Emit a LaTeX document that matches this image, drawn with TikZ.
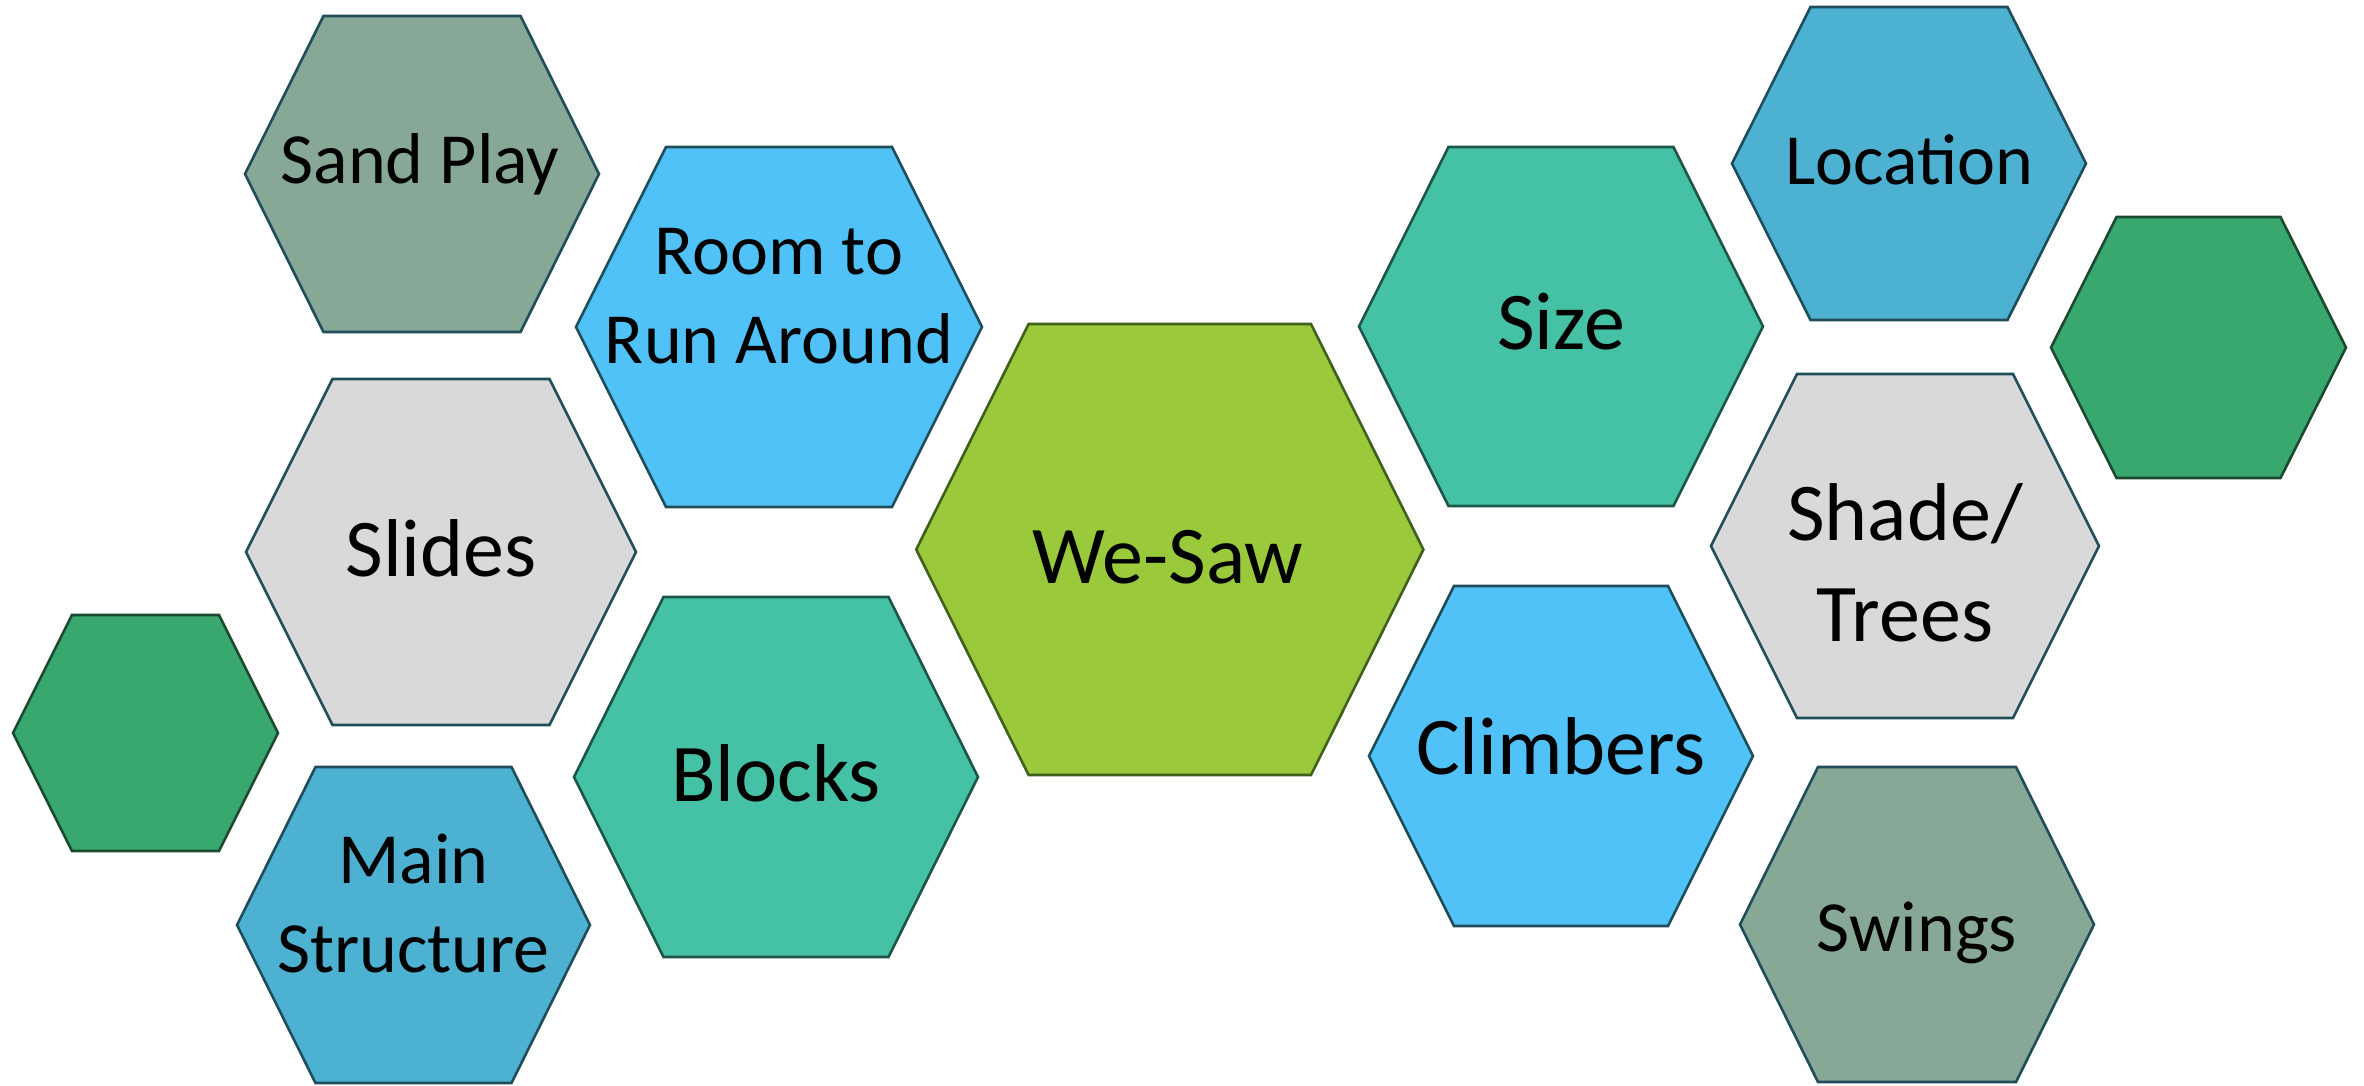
\documentclass[tikz,border=0pt]{standalone}
\usepackage{fontspec}
\setmainfont{Carlito}
\definecolor{sage}{HTML}{87A897}
\definecolor{sky}{HTML}{50C2F7}
\definecolor{pale}{HTML}{D9D9D9}
\definecolor{teal2}{HTML}{45C2A5}
\definecolor{blue2}{HTML}{4DB1D1}
\definecolor{dkgreen}{HTML}{38A86E}
\definecolor{lime}{HTML}{9ACA3C}
\definecolor{edgeblue}{HTML}{1F4D5A}
\definecolor{edgeteal}{HTML}{1D5548}
\definecolor{edgegreen}{HTML}{1B4A30}
\definecolor{edgelime}{HTML}{40601E}
\tikzset{
  hexbase/.style={line width=2.6pt, line join=miter},
  hsage/.style={hexbase, fill=sage, draw=edgeblue},
  hsky/.style={hexbase, fill=sky, draw=edgeblue},
  hpale/.style={hexbase, fill=pale, draw=edgeblue},
  hteal/.style={hexbase, fill=teal2, draw=edgeteal},
  hblue/.style={hexbase, fill=blue2, draw=edgeblue},
  hgreen/.style={hexbase, fill=dkgreen, draw=edgegreen},
  hlime/.style={hexbase, fill=lime, draw=edgelime},
  lbl/.style={anchor=base, inner sep=0pt, text=black},
  small/.style={lbl, font=\fontsize{72}{89}\selectfont},
  big/.style={lbl, font=\fontsize{82}{101}\selectfont},
}
% style, cx, cy, half width, half height, half top edge
\newcommand{\hexcell}[6]{%
  \path[#1] ({#2-#4},{#3}) -- ({#2-#6},{#3-#5}) -- ({#2+#6},{#3-#5}) --
    ({#2+#4},{#3}) -- ({#2+#6},{#3+#5}) -- ({#2-#6},{#3+#5}) -- cycle;}
\newcommand{\twolines}[2]{\begin{tabular}[t]{@{}c@{}}#1\\#2\end{tabular}}
\begin{document}
\begin{tikzpicture}[x=1pt,y=-1pt]
\useasboundingbox (0,0) rectangle (2364,1085);
% hexagons
\hexcell{hsage}{422}{174}{177}{158}{98.5}
\hexcell{hsky}{779}{327}{203}{180}{113}
\hexcell{hpale}{441}{552}{195}{173}{108.5}
\hexcell{hteal}{776}{777}{202}{180}{112.5}
\hexcell{hblue}{413.5}{925}{176.5}{158}{98}
\hexcell{hgreen}{145.5}{733}{132.5}{118}{73.5}
\hexcell{hlime}{1169.8}{549.5}{253.6}{225.5}{141.2}
\hexcell{hteal}{1561}{326.5}{202}{179.5}{112.5}
\hexcell{hsky}{1561}{756}{192}{170}{107}
\hexcell{hblue}{1909}{163.5}{177}{156.5}{98.5}
\hexcell{hgreen}{2198.5}{347.5}{147.5}{130.5}{82}
\hexcell{hpale}{1905}{546}{194}{172}{108}
\hexcell{hsage}{1917}{924.5}{177}{157.5}{99}
% labels
\node[small] (sand) at (420,183) {Sand Play};
\node[small] (room) at (779,274) {\twolines{Room to}{Run Around}};
\node[big] (slides) at (441,576) {Slides};
\node[big] (blocks) at (776,801) {Blocks};
\node[small] (main) at (413.5,883) {\twolines{Main}{Structure}};
\node[lbl, font=\fontsize{82}{100}\selectfont] (wesaw) at (1168,583) {We-Saw};
\node[big] (size) at (1561,349) {Size};
\node[big] (climbers) at (1561,774) {Climbers};
\node[small] (location) at (1909,184) {Location};
\node[big] (shade) at (1905,540) {\twolines{Shade/}{Trees}};
\node[small] (swings) at (1917,951) {Swings};
\end{tikzpicture}
\end{document}
